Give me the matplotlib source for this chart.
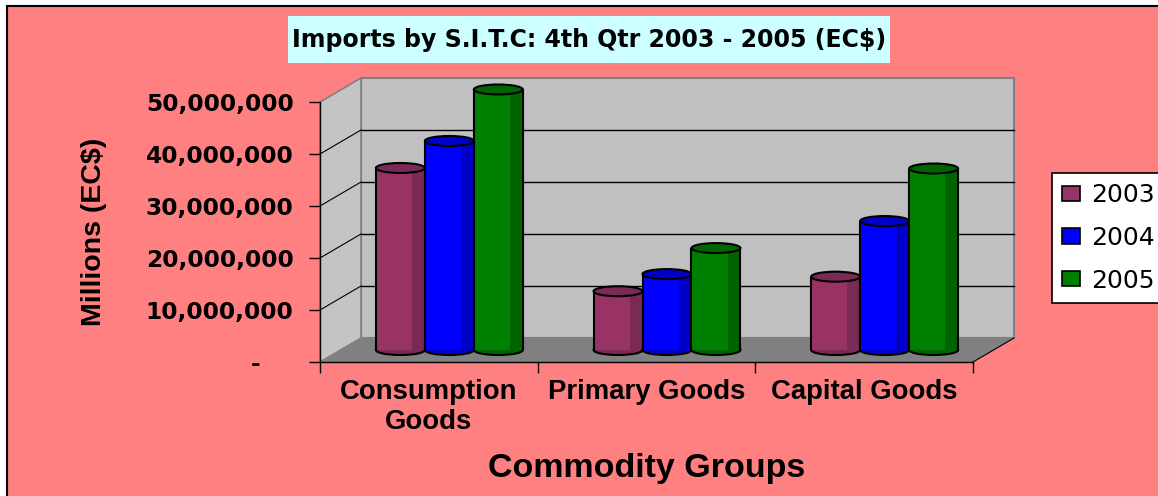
import numpy as np
import matplotlib.pyplot as plt
from matplotlib.patches import Rectangle, Ellipse, Polygon, Patch

categories = ["Consumption\nGoods", "Primary Goods", "Capital Goods"]
years = ["2003", "2004", "2005"]
imports_2003 = [35.0e6, 11.3e6, 14.1e6]
imports_2004 = [40.2e6, 14.6e6, 24.8e6]
imports_2005 = [50.1e6, 19.6e6, 34.9e6]
yticks = [0, 10e6, 20e6, 30e6, 40e6, 50e6]

face = ["#993366", "#0000FF", "#008000"]
shade = ["#7A2A55", "#0000C8", "#006400"]

W, H, DPI = 1158, 496, 100
fig = plt.figure(figsize=(W / DPI, H / DPI), dpi=DPI, facecolor="white")

# chart area background with black frame
fig.add_artist(Rectangle((7 / W, -0.1), 1.1, 1 - 6 / H + 0.1, transform=fig.transFigure,
                         facecolor="#FF8080", edgecolor="black", lw=1.5, zorder=-1))

# title box
fig.add_artist(Rectangle((288 / W, 1 - 63 / H), 602 / W, 47 / H, transform=fig.transFigure,
                         facecolor="#CCFFFF", edgecolor="none", zorder=1))
fig.text(589 / W, 1 - 40 / H, "Imports by S.I.T.C: 4th Qtr 2003 - 2005 (EC$)",
         ha="center", va="center", fontsize=17, fontweight="bold",
         family="DejaVu Sans", zorder=2)

# front plane of the 3D box
ax = fig.add_axes([320 / W, 1 - 362 / H, 653 / W, 260 / H])
ax.patch.set_visible(False)
ax.set_xlim(-0.5, 2.5)
ax.set_ylim(0, 50e6)

# depth offset (back wall) in data units
dxd = 41 / 653 * 3
dyd = 24 / 260 * 50e6
x0, x1, ytop = -0.5, 2.5, 50e6

ax.add_patch(Rectangle((x0 + dxd, dyd), x1 - x0, ytop, facecolor="#C0C0C0",
                       edgecolor="#808080", lw=1.5, clip_on=False, zorder=0))
ax.add_patch(Polygon([(x0, 0), (x0, ytop), (x0 + dxd, ytop + dyd), (x0 + dxd, dyd)],
                     closed=True, facecolor="#C4C4C4", edgecolor="#808080", lw=1.2,
                     clip_on=False, zorder=0))
ax.add_patch(Polygon([(x0, 0), (x1, 0), (x1 + dxd, dyd), (x0 + dxd, dyd)],
                     closed=True, facecolor="#808080", edgecolor="none",
                     clip_on=False, zorder=0.5))
ax.plot([x1, x1 + dxd], [0, dyd], color="black", lw=0.8, clip_on=False, zorder=0.6)
for yv in yticks[1:-1]:
    ax.plot([x0 + dxd, x1 + dxd], [yv + dyd, yv + dyd], color="black", lw=1,
            clip_on=False, zorder=0.4)
    ax.plot([x0, x0 + dxd], [yv, yv + dyd], color="black", lw=0.8,
            clip_on=False, zorder=0.4)

# bars as pseudo-cylinders
series = [imports_2003, imports_2004, imports_2005]
bw = 0.225
eh = 10 / 260 * 50e6
base = dyd / 2
x = np.arange(len(categories))
for i, vals in enumerate(series):
    xp = x + (i - 1) * bw + dxd / 2
    for xc in xp:
        ax.add_patch(Ellipse((xc, base), bw, eh, facecolor=shade[i], edgecolor="black",
                             lw=1.5, clip_on=False, zorder=3 + i))
    ax.bar(xp, vals, bw, bottom=base, color=face[i], lw=0, clip_on=False, zorder=3.2 + i)
    ax.bar(xp + bw * 0.37, vals, bw * 0.26, bottom=base, color=shade[i], lw=0,
           clip_on=False, zorder=3.3 + i)
    ax.vlines(xp - bw / 2, base, np.array(vals) + base, color="black", lw=1.5,
              clip_on=False, zorder=3.4 + i)
    ax.vlines(xp + bw / 2, base, np.array(vals) + base, color="black", lw=1.5,
              clip_on=False, zorder=3.4 + i)
    for xc, v in zip(xp, vals):
        ax.add_patch(Ellipse((xc, v + base), bw, eh, facecolor=shade[i], edgecolor="black",
                             lw=1.5, clip_on=False, zorder=3.5 + i))

# axes styling
for s in ["top", "right"]:
    ax.spines[s].set_visible(False)
for s in ["left", "bottom"]:
    ax.spines[s].set_color("black")
    ax.spines[s].set_linewidth(1)
    ax.spines[s].set_zorder(10)

ax.set_yticks(yticks)
ax.set_yticklabels(["-    " if v == 0 else f"{v:,.0f}" for v in yticks],
                   fontsize=16.8, fontweight="bold", family="DejaVu Sans")
ax.tick_params(axis="y", direction="out", length=8, width=1, pad=11, colors="black")

ax.set_xticks([-0.5, 0.5, 1.5, 2.5])
ax.set_xticklabels([])
ax.set_xticks(x, minor=True)
ax.set_xticklabels(categories, minor=True, fontsize=19.8, fontweight="bold",
                   family="Liberation Sans")
ax.tick_params(axis="x", which="major", direction="out", length=8, width=1)
ax.tick_params(axis="x", which="minor", length=0, pad=12.5)

fig.text(94 / W, 1 - 232 / H, "Millions (EC$)", rotation=90, ha="center", va="center",
         fontsize=20.5, fontweight="bold", family="Liberation Sans")
fig.text(646.5 / W, 1 - 468 / H, "Commodity Groups", ha="center", va="center",
         fontsize=24.5, fontweight="bold", family="Liberation Sans")

handles = [Patch(facecolor=face[i], edgecolor="black", lw=1.2) for i in range(3)]
leg = fig.legend(handles, years, loc="upper left",
                 bbox_to_anchor=(1052 / W, 1 - 173 / H), borderaxespad=0,
                 frameon=True, fancybox=False, framealpha=1, edgecolor="black",
                 prop={"family": "DejaVu Sans", "size": 18},
                 handlelength=0.72, handleheight=0.56, handletextpad=0.45,
                 labelspacing=0.75, borderpad=0.4)
leg.get_frame().set_linewidth(1.2)

fig.savefig("out.png", dpi=DPI, facecolor=fig.get_facecolor())
